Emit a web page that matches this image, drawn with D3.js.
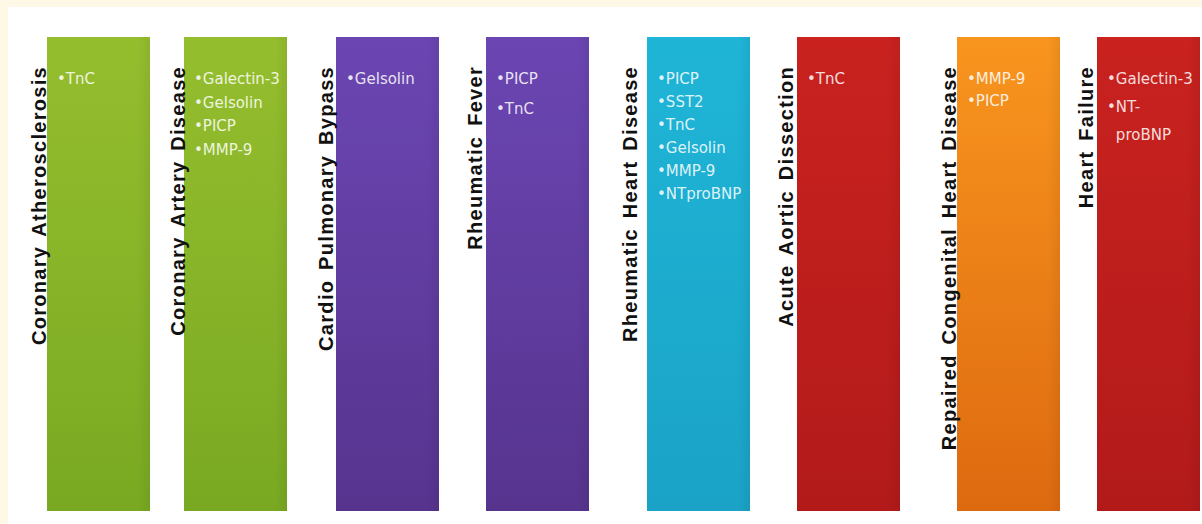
<!DOCTYPE html>
<html>
<head>
<meta charset="utf-8">
<script src="https://cdn.jsdelivr.net/npm/d3@7/dist/d3.min.js"></script>
<style>
  html, body { margin: 0; padding: 0; background: #fdf9e6; }
  svg { display: block; }
</style>
</head>
<body>
<svg id="chart" width="1202" height="524"></svg>
<script>
// ---- data ----
const categories = [
  "Coronary Atherosclerosis",
  "Coronary Artery Disease",
  "Cardio Pulmonary Bypass",
  "Rheumatic Fever",
  "Rheumatic Heart Disease",
  "Acute Aortic Dissection",
  "Repaired Congenital Heart Disease",
  "Heart Failure"
];
const markers = [
  ["TnC"],
  ["Galectin-3", "Gelsolin", "PICP", "MMP-9"],
  ["Gelsolin"],
  ["PICP", "TnC"],
  ["PICP", "SST2", "TnC", "Gelsolin", "MMP-9", "NTproBNP"],
  ["TnC"],
  ["MMP-9", "PICP"],
  ["Galectin-3", "NT-\nproBNP"]
];
const colorGroups = ["green", "green", "purple", "purple", "cyan", "red", "orange", "red"];

// ---- layout / style ----
const boxLeft = [47, 184, 336, 486, 647, 797, 957, 1097];
const labelBase = [46, 185, 333, 482, 637, 793, 956, 1093];
const lineGap = [23, 23.5, 23, 30, 23, 23, 22, 28];
const palette = {
  green:  ["#95be2e", "#79a922"],
  purple: ["#6b46b3", "#56348e"],
  cyan:   ["#1fb5d7", "#1aa3c6"],
  red:    ["#c9221f", "#b21a1a"],
  orange: ["#f8951e", "#de6a10"]
};

const svg = d3.select("#chart");
const W = 1202, H = 524;

// white panel
svg.append("rect").attr("x", 8).attr("y", 7).attr("width", W - 8).attr("height", H - 7).attr("fill", "#ffffff");

const xBox = d3.scaleOrdinal().domain(categories).range(boxLeft);
const xLabel = d3.scaleOrdinal().domain(categories).range(labelBase);
const gapScale = d3.scaleOrdinal().domain(categories).range(lineGap);
const boxW = 103, boxTop = 37, boxBottom = 511;
const yLine = (i, cat) => 84 + i * gapScale(cat);

const defs = svg.append("defs");
Object.entries(palette).forEach(([k, c]) => {
  const g = defs.append("linearGradient").attr("id", "grad-" + k)
    .attr("x1", 0).attr("y1", 0).attr("x2", 0).attr("y2", 1);
  g.append("stop").attr("offset", "0%").attr("stop-color", c[0]);
  g.append("stop").attr("offset", "100%").attr("stop-color", c[1]);
  const h = defs.append("linearGradient").attr("id", "edge-" + k)
    .attr("x1", 0).attr("y1", 0).attr("x2", 1).attr("y2", 0);
  h.append("stop").attr("offset", "0%").attr("stop-color", "#000").attr("stop-opacity", 0);
  h.append("stop").attr("offset", "88%").attr("stop-color", "#000").attr("stop-opacity", 0);
  h.append("stop").attr("offset", "100%").attr("stop-color", "#000").attr("stop-opacity", 0.06);
});

const cols = svg.selectAll("g.col").data(categories).join("g").attr("class", "col");

cols.append("rect")
  .attr("x", d => xBox(d)).attr("y", boxTop)
  .attr("width", boxW).attr("height", boxBottom - boxTop)
  .attr("fill", (d, i) => `url(#grad-${colorGroups[i]})`);
cols.append("rect")
  .attr("x", d => xBox(d)).attr("y", boxTop)
  .attr("width", boxW).attr("height", boxBottom - boxTop)
  .attr("fill", (d, i) => `url(#edge-${colorGroups[i]})`);

// rotated labels
cols.append("text")
  .attr("transform", d => `translate(${xLabel(d)},66) rotate(-90)`)
  .attr("text-anchor", "end")
  .attr("font-family", "'Liberation Sans', Arial, sans-serif")
  .attr("font-weight", "bold")
  .attr("font-size", 20)
  .attr("letter-spacing", 1.3)
  .attr("word-spacing", 3)
  .attr("fill", "#111")
  .text(d => d);

// bullet lists
const itemFont = 15;
cols.each(function (cat, ci) {
  const g = d3.select(this);
  const x0 = xBox(cat) + 10;
  let line = 0;
  markers[ci].forEach(item => {
    const parts = item.split("\n");
    parts.forEach((p, pi) => {
      const t = g.append("text")
        .attr("x", x0).attr("y", yLine(line, cat))
        .attr("font-family", "'DejaVu Sans', sans-serif")
        .attr("font-size", itemFont)
        .attr("fill", "#ffffff")
        .attr("fill-opacity", 0.86);
      if (pi === 0) {
        t.append("tspan").text("\u2022");
        t.append("tspan").text(p);
      } else {
        const probe = g.append("text").attr("font-family", "'DejaVu Sans', sans-serif")
          .attr("font-size", itemFont).text("\u2022");
        const bw = probe.node().getComputedTextLength();
        probe.remove();
        t.attr("x", x0 + bw).text(p);
      }
      line++;
    });
  });
});
</script>
</body>
</html>
